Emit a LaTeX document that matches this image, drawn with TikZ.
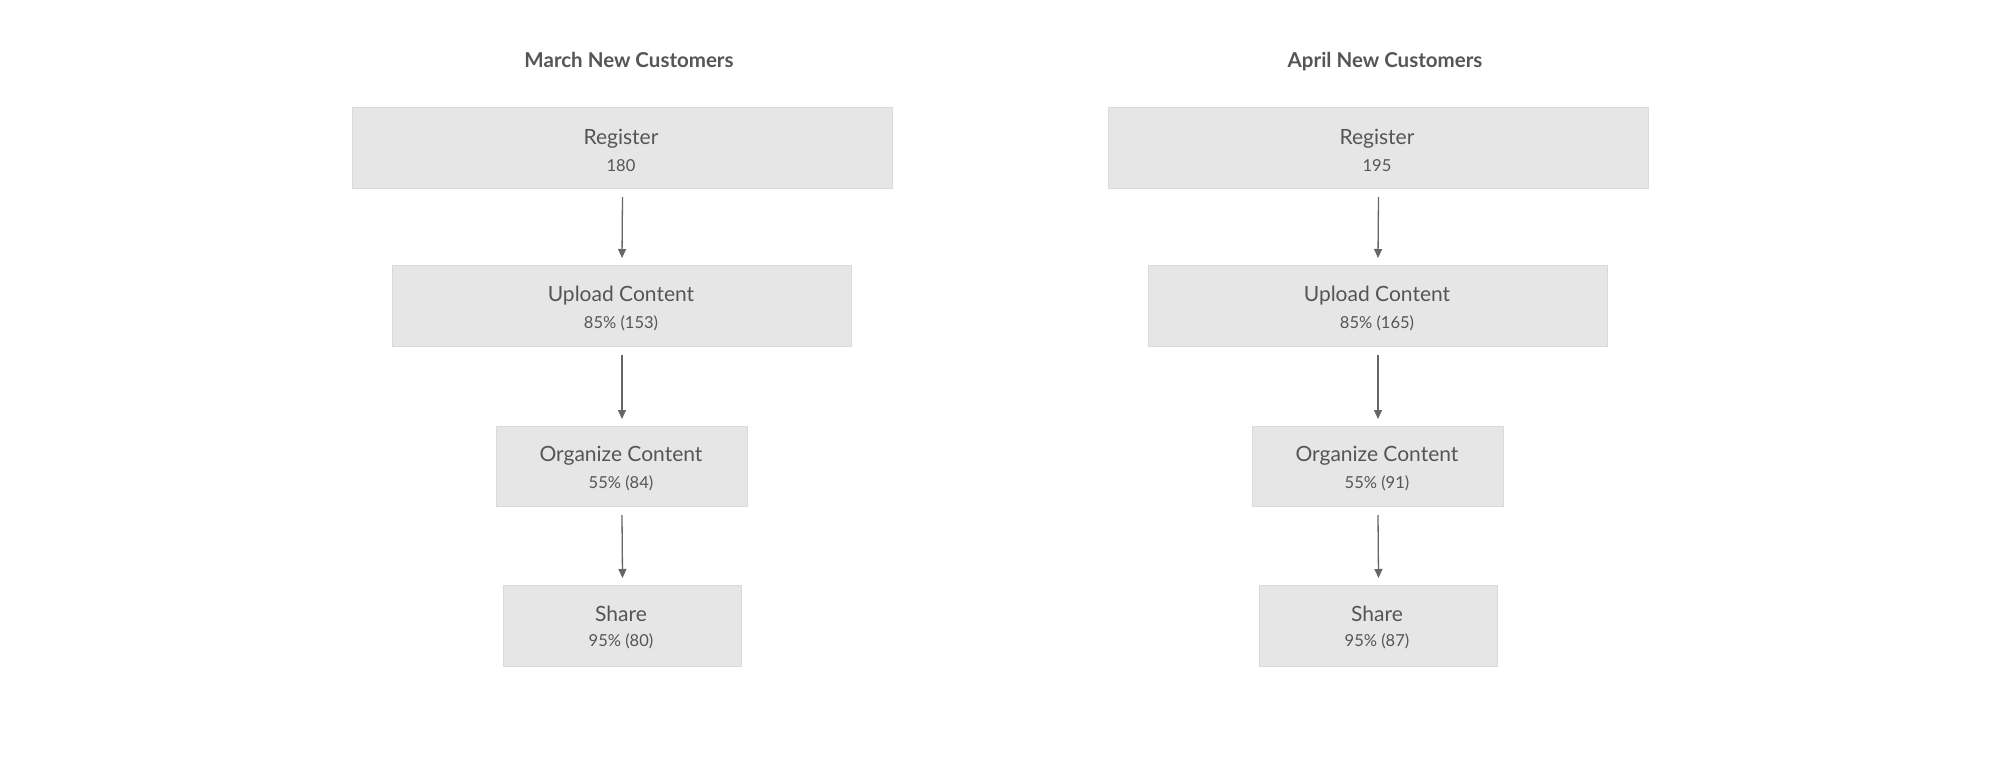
\documentclass[tikz,border=0pt]{standalone}
\usepackage{fontspec}
\setmainfont{Lato}
\usetikzlibrary{arrows.meta}
\definecolor{boxf}{HTML}{E6E6E6}
\definecolor{boxd}{HTML}{DADADA}
\definecolor{txt}{HTML}{555555}
\definecolor{arr}{HTML}{666666}
\begin{document}
\begin{tikzpicture}[x=1pt,y=-1pt,
  box/.style={draw=boxd,line width=1pt,fill=boxf,inner sep=0pt,anchor=north west},
  ttl/.style={text=txt,anchor=base,font=\fontsize{20.5}{24}\selectfont\bfseries},
  lab/.style={text=txt,font=\fontsize{21}{24}\selectfont},
  num/.style={text=txt,font=\fontsize{16.5}{19}\selectfont},
  ar/.style={draw=arr,line width=1.3pt,-{Triangle[length=9pt,width=8pt]}}]
\useasboundingbox (0,0) rectangle (2000,773);
\foreach \o/\t/\a/\b/\c/\d [count=\i] in {0/March/180/153/84/80, 756/April/195/165/91/87}{
  \node[ttl] at (629+\o,68) {\t\ New Customers};
  \node[box,minimum width=540,minimum height=81] (r\i) at (352+\o,107) {};
  \node[box,minimum width=459,minimum height=81] (u\i) at (392+\o,265) {};
  \node[box,minimum width=251,minimum height=80] (o\i) at (496+\o,426) {};
  \node[box,minimum width=238,minimum height=81] (s\i) at (503+\o,585) {};
  \node[lab] at (621+\o,139) {Register};
  \node[num] at (621+\o,166) {\a};
  \node[lab] at (621+\o,296) {Upload Content};
  \node[num] at (621+\o,323) {85\% (\b)};
  \node[lab] at (621+\o,456) {Organize Content};
  \node[num] at (621+\o,483) {55\% (\c)};
  \node[lab] at (621+\o,614) {Share};
  \node[num] at (621+\o,641) {95\% (\d)};
  \draw[ar] ([yshift=-8]r\i.south) -- ([yshift=7]u\i.north);
  \draw[ar] ([yshift=-8]u\i.south) -- ([yshift=7]o\i.north);
  \draw[ar] ([yshift=-8]o\i.south) -- ([yshift=7]s\i.north);
}
\end{tikzpicture}
\end{document}
